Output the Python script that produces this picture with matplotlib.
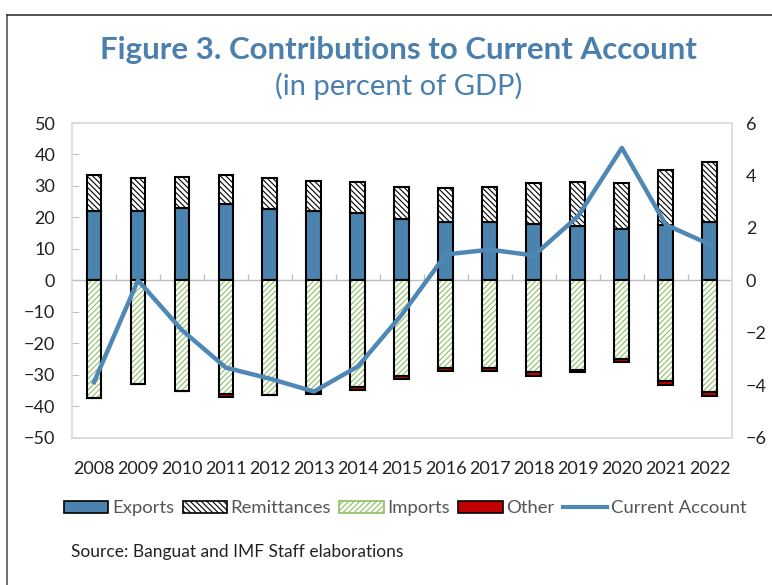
import matplotlib
matplotlib.use("Agg")
import matplotlib.pyplot as plt
import numpy as np
from matplotlib.patches import Patch
from matplotlib.lines import Line2D

plt.rcParams['font.family'] = ['Lato', 'DejaVu Sans']
plt.rcParams['hatch.linewidth'] = 0.8

years = [str(y) for y in range(2008, 2023)]
exports = [22.1, 22.1, 23.1, 24.2, 22.7, 21.9, 21.5, 19.5, 18.7, 18.4, 18.0, 17.4, 16.2, 17.5, 18.7]
remittances = [11.3, 10.3, 9.9, 9.3, 9.7, 9.6, 9.8, 10.2, 10.7, 11.3, 13.0, 13.9, 14.7, 17.6, 19.0]
imports = [-37.4, -32.9, -35.1, -36.0, -36.3, -35.6, -33.8, -30.3, -27.9, -28.0, -29.1, -28.4, -24.9, -32.0, -35.6]
other = [0.0, 0.0, 0.0, -1.0, 0.0, -0.5, -1.0, -1.0, -0.9, -0.8, -1.2, -0.8, -1.2, -1.3, -1.2]
current_account = [-3.88, 0.0, -1.9, -3.33, -3.75, -4.24, -3.28, -1.3, 0.99, 1.17, 0.95, 2.44, 5.05, 2.12, 1.37]

blue = "#4a84ae"
line_blue = "#4f87b5"
green = "#8cc063"
red = "#c00000"
grey = "#bfbfbf"

fig = plt.figure(figsize=(7.72, 5.85), dpi=100)
ax = fig.add_axes([0.0933, 0.2518, 0.8547, 0.5379])
x = np.arange(len(years))
w = 0.34

ax.bar(x, exports, w, color=blue, edgecolor="black", linewidth=1.5, zorder=3)
ax.bar(x, remittances, w, bottom=exports, color="white", edgecolor="black",
       hatch="\\\\\\\\\\\\", linewidth=1.5, zorder=3)
ax.bar(x, imports, w, color="white", edgecolor=green, hatch="//////", linewidth=0, zorder=3)
ax.bar(x, imports, w, color="none", edgecolor="black", linewidth=1.5, zorder=4)
ax.bar(x, other, w, bottom=imports, color=red, edgecolor="black", linewidth=1.5, zorder=4)

ax.axhline(0, color=grey, linewidth=1, zorder=2)
ax.vlines(x[:-1] + 0.5, 0, 2, color=grey, linewidth=1, zorder=2)

ax.set_xlim(-0.5, len(years) - 0.5)
ax.set_ylim(-50, 50)
ax.set_yticks(np.arange(-50, 51, 10))
ax.set_xticks(x)
ax.set_xticklabels(years)
ax.tick_params(axis="x", length=0, pad=17, labelsize=13, colors="#222222")
ax.tick_params(axis="y", direction="in", length=5, color=grey, labelsize=13,
               pad=12, labelcolor="#222222")
for s in ax.spines.values():
    s.set_color("#d9d9d9")
    s.set_linewidth(1.2)

ax2 = ax.twinx()
ax2.plot(x, current_account, color=line_blue, linewidth=3.2, zorder=5)
ax2.set_ylim(-6, 6)
ax2.set_yticks(np.arange(-6, 7, 2))
ax2.tick_params(axis="y", length=0, labelsize=13, pad=10, labelcolor="#222222")
for s in ax2.spines.values():
    s.set_visible(False)

fig.text(0.516, 0.915, "Figure 3. Contributions to Current Account", ha="center", va="center",
         fontsize=22.5, fontweight="bold", color="#4a7fae")
fig.text(0.516, 0.853, "(in percent of GDP)", ha="center", va="center",
         fontsize=21, color="#4a7fae")

handles = [
    Patch(facecolor=blue, edgecolor="black", linewidth=1.2),
    Patch(facecolor="white", edgecolor="black", hatch="\\\\\\\\\\\\", linewidth=1.2),
    Patch(facecolor="white", edgecolor=green, hatch="//////", linewidth=1.2),
    Patch(facecolor=red, edgecolor="black", linewidth=1.2),
    Line2D([0], [0], color=line_blue, linewidth=3),
]
labels = ["Exports", "Remittances", "Imports", "Other", "Current Account"]
fig.legend(handles, labels, loc="center", bbox_to_anchor=(0.525, 0.131), ncol=5,
           frameon=False, fontsize=13.3, handlelength=2.4, handleheight=0.6,
           handletextpad=0.2, columnspacing=0.45, labelcolor="#555555")

fig.text(0.092, 0.056, "Source: Banguat and IMF Staff elaborations", ha="left", va="center",
         fontsize=12.5, color="#222222")

# outer frame
fig.add_artist(Line2D([0.009, 0.009], [0.0, 0.974], color="#555555", linewidth=1.2))
fig.add_artist(Line2D([0.009, 1.0], [0.974, 0.974], color="#333333", linewidth=1.2))

fig.savefig("out.png", dpi=100)
